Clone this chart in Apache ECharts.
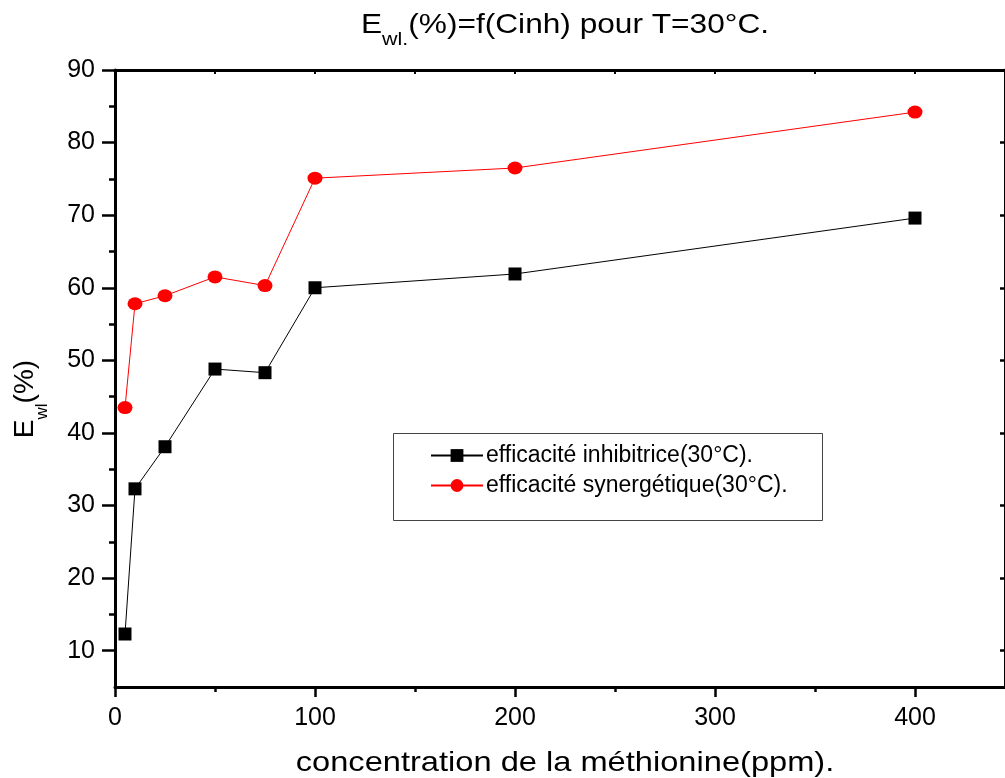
<!DOCTYPE html>
<html><head><meta charset="utf-8">
<script src="https://cdn.jsdelivr.net/npm/echarts@6/dist/echarts.min.js"></script>
<style>html,body{margin:0;padding:0;background:#fff}#c{width:1005px;height:778px}</style>
</head><body><div id="c"></div>
<script>
// ---- data ----
const concentrations = [5, 10, 25, 50, 75, 100, 200, 400];
const inhibitrice = [12.3, 32.3, 38.1, 48.8, 48.3, 60.0, 61.9, 69.6];
const synergetique = [43.5, 57.8, 58.9, 61.5, 60.3, 75.1, 76.5, 84.2];
const seriesNames = ['efficacité inhibitrice(30°C).', 'efficacité synergétique(30°C).'];
const xTickValues = [0, 100, 200, 300, 400];
const xMinorValues = [50, 150, 250, 350];
const xTopValues = [0, 50, 100, 150, 200, 250, 300, 350, 400];
const yTickValues = [10, 20, 30, 40, 50, 60, 70, 80, 90];
const yMinorValues = [15, 25, 35, 45, 55, 65, 75, 85];

const FONT = 'Liberation Sans, Arial, sans-serif';
const pairs = (xs, ys) => xs.map((x, i) => [x, ys[i]]);

const X_MIN = 0, X_MAX = 445, Y_MIN = 5, Y_MAX = 90;
const black = '#000';

function xAx(extra) {
  return Object.assign({
    type: 'value', min: X_MIN, max: X_MAX, splitLine: { show: false },
    axisLine: { show: false }, axisTick: { show: false }, axisLabel: { show: false }
  }, extra);
}
function yAx(extra) {
  return Object.assign({
    type: 'value', min: Y_MIN, max: Y_MAX, splitLine: { show: false },
    axisLine: { show: false }, axisTick: { show: false }, axisLabel: { show: false }
  }, extra);
}

const chart = echarts.init(document.getElementById('c'), null, { renderer: 'canvas' });
chart.setOption({
  backgroundColor: '#fff',
  animation: false,
  grid: { left: 115, right: 0, top: 70, bottom: 91, containLabel: false, outerBoundsMode: 'none' },
  xAxis: [
    xAx({ position: 'bottom',
      axisLine: { show: true, onZero: false, lineStyle: { color: black, width: 3 } },
      axisTick: { show: true, customValues: xTickValues, length: 10, lineStyle: { color: black, width: 2.5 } },
      axisLabel: { show: true, customValues: xTickValues, fontSize: 25, color: black, fontFamily: FONT, margin: 19 } }),
    xAx({ position: 'bottom',
      axisTick: { show: true, customValues: xMinorValues, length: 5, lineStyle: { color: black, width: 2.5 } } }),
    xAx({ position: 'top',
      axisLine: { show: true, onZero: false, lineStyle: { color: black, width: 3 } },
      axisTick: { show: true, inside: true, customValues: xTopValues, length: 4, lineStyle: { color: black, width: 2 } } })
  ],
  yAxis: [
    yAx({ position: 'left',
      axisLine: { show: true, onZero: false, lineStyle: { color: black, width: 3 } },
      axisTick: { show: true, customValues: yTickValues, length: 13, lineStyle: { color: black, width: 2.5 } },
      axisLabel: { show: true, customValues: yTickValues, fontSize: 25, color: black, fontFamily: FONT, margin: 20 } }),
    yAx({ position: 'left',
      axisTick: { show: true, customValues: yMinorValues, length: 6, lineStyle: { color: black, width: 2.5 } } }),
    yAx({ position: 'right',
      axisLine: { show: true, onZero: false, lineStyle: { color: black, width: 3 } },
      axisTick: { show: true, inside: true, customValues: yTickValues, length: 5, lineStyle: { color: black, width: 2.5 } } })
  ],
  legend: {
    orient: 'vertical', left: 425, top: 439, itemWidth: 52, itemHeight: 16, itemGap: 7,
    textStyle: { fontSize: 23, color: black, fontFamily: FONT, lineHeight: 20, padding: [0, 0, 0, -2] },
    data: seriesNames
  },
  graphic: [
    { type: 'rect', shape: { x: 393.5, y: 433.5, width: 429, height: 87 },
      style: { fill: 'none', stroke: '#444', lineWidth: 1 }, z: 1 },
    { type: 'text', x: 565, y: 8, scaleX: 1.13, z: 10,
      style: { text: '{a|E}{b|wl.}{a|(%)=f(Cinh) pour T=30°C.}', textAlign: 'center', textVerticalAlign: 'top',
        rich: { a: { fontSize: 28, lineHeight: 34, fontFamily: FONT, fill: black, color: black },
                b: { fontSize: 19, lineHeight: 19, padding: [30, 0, 0, 0], fontFamily: FONT, fill: black, color: black } } } },
    { type: 'text', x: 25, y: 399, rotation: Math.PI / 2, z: 10,
      style: { text: '{a|E}{b|wl}{a|(%)}', textAlign: 'center', textVerticalAlign: 'middle',
        rich: { a: { fontSize: 28, lineHeight: 34, fontFamily: FONT, fill: black, color: black },
                b: { fontSize: 17, lineHeight: 17, padding: [34, 0, 0, 0], fontFamily: FONT, fill: black, color: black } } } },
    { type: 'text', x: 565, y: 763, scaleX: 1.165, z: 10,
      style: { text: 'concentration de la méthionine(ppm).', textAlign: 'center', textVerticalAlign: 'middle',
        fontSize: 28, fontFamily: FONT, fill: black } }
  ],
  series: [
    { name: seriesNames[0], type: 'line', xAxisIndex: 0, yAxisIndex: 0,
      data: pairs(concentrations, inhibitrice), symbol: 'rect', symbolSize: 13,
      itemStyle: { color: black }, lineStyle: { color: black, width: 1 }, z: 3 },
    { name: seriesNames[1], type: 'line', xAxisIndex: 0, yAxisIndex: 0,
      data: pairs(concentrations, synergetique), symbol: 'circle', symbolSize: [15, 13],
      itemStyle: { color: '#ff0000' }, lineStyle: { color: '#ff0000', width: 1 }, z: 3 }
  ]
});
</script></body></html>
